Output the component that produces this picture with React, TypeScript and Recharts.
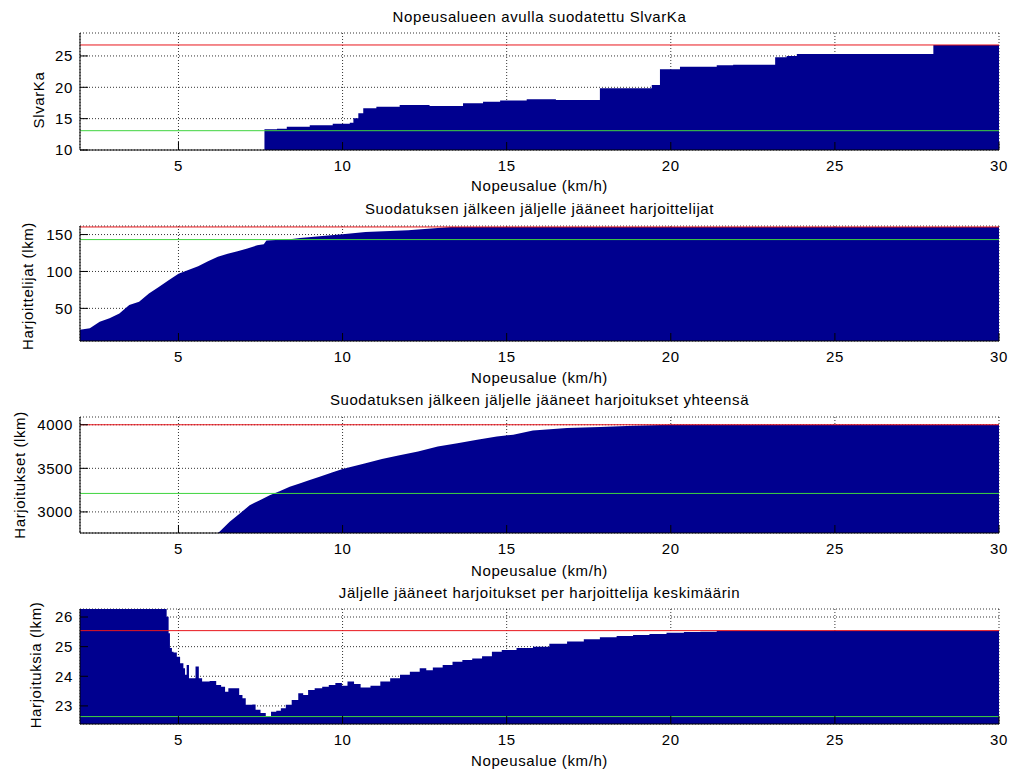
import React from 'react';
import { ComposedChart, Area, XAxis, YAxis, CartesianGrid, ReferenceLine } from 'recharts';

// ---- shared x axis ----
const X_DOMAIN: [number, number] = [2, 30];
const X_TICKS = [5, 10, 15, 20, 25, 30];

// ---- panel 1: SlvarKa ----
const slvarkaX = [7.62, 8.0, 8.3, 9.0, 9.7, 10.22, 10.33, 10.48, 10.63, 11.03, 11.74, 12.65, 13.67, 14.28, 14.8, 15.61, 16.5, 17.84, 19.42, 19.67, 20.28, 21.4, 21.9, 23.18, 23.53, 23.84, 28.0, 30.0];
const slvarkaY = [13.3, 13.4, 13.72, 13.93, 14.2, 14.35, 15.06, 15.85, 16.65, 16.9, 17.18, 17.0, 17.45, 17.7, 17.9, 18.08, 17.97, 19.84, 20.37, 22.87, 23.29, 23.5, 23.6, 24.78, 24.99, 25.31, 26.75, 26.75];
const slvarkaTicks = [10, 15, 20, 25];

// ---- panel 2: Harjoittelijat ----
const harjoittelijatX = [2.0, 2.3, 2.6, 2.9, 3.2, 3.5, 3.8, 4.1, 4.4, 4.7, 5.0, 5.3, 5.6, 5.9, 6.2, 6.5, 6.8, 7.1, 7.4, 7.6, 7.68, 8.4, 8.7, 9.3, 10.0, 10.7, 12.0, 12.9, 13.3, 30.0];
const harjoittelijatY = [21, 23, 32, 36.5, 43, 54.5, 59, 70, 79, 88, 97, 102, 107, 114, 120, 124, 127.4, 131, 135.5, 137, 142, 143.6, 145.5, 147.7, 150.4, 153.5, 155.8, 159, 160.3, 160.3];
const harjoittelijatTicks = [50, 100, 150];

// ---- panel 3: Harjoitukset ----
const harjoituksetX = [6.2, 6.25, 6.56, 6.87, 7.17, 7.48, 7.78, 8.08, 8.39, 8.69, 9.0, 9.3, 9.7, 10.0, 10.7, 11.2, 11.7, 12.3, 12.9, 13.5, 14.1, 14.7, 15.2, 15.8, 16.84, 17.84, 18.85, 19.98, 30.0];
const harjoituksetY = [2758, 2773, 2888, 2981, 3077, 3134, 3192, 3238, 3288, 3327, 3365, 3404, 3455, 3493, 3559, 3608, 3646, 3692, 3750, 3789, 3827, 3865, 3885, 3935, 3962, 3973, 3988, 4000, 4000];
const harjoituksetTicks = [3000, 3500, 4000];

// ---- panel 4: Harjoituksia per harjoittelija ----
const keskiarvoX = [2.0, 4.64, 4.7, 4.74, 4.8, 4.85, 4.95, 5.05, 5.15, 5.2, 5.25, 5.32, 5.52, 5.62, 5.72, 5.95, 6.15, 6.3, 6.42, 6.52, 6.85, 6.95, 7.05, 7.25, 7.35, 7.5, 7.66, 7.82, 7.98, 8.12, 8.27, 8.45, 8.65, 8.8, 8.95, 9.15, 9.38, 9.58, 9.78, 9.98, 10.15, 10.35, 10.55, 10.85, 11.15, 11.45, 11.75, 12.05, 12.35, 12.55, 12.75, 13.05, 13.35, 13.65, 13.95, 14.25, 14.55, 14.85, 15.3, 15.8, 16.3, 16.84, 17.35, 17.84, 18.35, 18.85, 19.35, 19.87, 20.4, 20.9, 21.4, 30.0];
const keskiarvoY = [27.0, 26.01, 25.45, 24.95, 24.83, 24.8, 24.66, 24.44, 24.27, 24.05, 24.38, 23.93, 24.33, 23.93, 23.82, 23.84, 23.71, 23.65, 23.48, 23.6, 23.37, 23.26, 23.04, 23.05, 22.87, 22.76, 22.64, 22.8, 22.84, 22.92, 23.04, 23.2, 23.43, 23.37, 23.54, 23.6, 23.65, 23.71, 23.77, 23.68, 23.82, 23.74, 23.62, 23.68, 23.82, 23.93, 24.05, 24.15, 24.27, 24.2, 24.3, 24.38, 24.49, 24.55, 24.6, 24.68, 24.83, 24.89, 24.95, 25.0, 25.1, 25.17, 25.25, 25.32, 25.36, 25.39, 25.43, 25.47, 25.49, 25.5, 25.54, 25.54];
const keskiarvoTicks = [23, 24, 25, 26];

const titles = [
  'Nopeusalueen avulla suodatettu SlvarKa',
  'Suodatuksen jälkeen jäljelle jääneet harjoittelijat',
  'Suodatuksen jälkeen jäljelle jääneet harjoitukset yhteensä',
  'Jäljelle jääneet harjoitukset per harjoittelija keskimäärin',
];
const yLabels = ['SlvarKa', 'Harjoittelijat (lkm)', 'Harjoitukset (lkm)', 'Harjoituksia (lkm)'];
const xLabel = 'Nopeusalue (km/h)';

const NAVY = '#00008F';
const RED = '#e8161c';
const GREEN = '#3fd43f';

const zip = (xs: number[], ys: number[]) => xs.map((x, i) => ({ x, y: ys[i] }));

type PanelProps = {
  plotTop: number;
  plotBottom: number;
  data: { x: number; y: number }[];
  yDomain: [number, number];
  yTicks: number[];
  red: number;
  green: number;
  curve: 'stepAfter' | 'linear';
};

const MT = 10;
const XAH = 40;

function Panel({ plotTop, plotBottom, data, yDomain, yTicks, red, green, curve }: PanelProps) {
  const plotH = plotBottom - plotTop;
  const axisStyle = { stroke: '#000', strokeWidth: 1 };
  return (
    <div style={{ position: 'absolute', left: 0, top: plotTop - MT }}>
      <ComposedChart width={1013} height={plotH + MT + XAH} data={data} margin={{ top: MT, right: 14, bottom: 0, left: 0 }}>
        <CartesianGrid stroke="#000" strokeDasharray="1 2" strokeOpacity={0.8} />
        <Area dataKey="y" type={curve} fill={NAVY} fillOpacity={1} stroke="none" isAnimationActive={false} dot={false} activeDot={false} />
        <ReferenceLine y={red} stroke={RED} strokeWidth={1} />
        <ReferenceLine y={green} stroke={GREEN} strokeWidth={1} />
        <XAxis dataKey="x" type="number" domain={X_DOMAIN} ticks={X_TICKS} interval={0} allowDataOverflow
          tickSize={-8} tickMargin={18} height={XAH} axisLine={axisStyle} tickLine={axisStyle} tick={{ fill: '#000' }} />
        <XAxis xAxisId="top" orientation="top" type="number" domain={X_DOMAIN} ticks={X_TICKS} interval={0} allowDataOverflow
          tickSize={-8} height={0} axisLine={axisStyle} tickLine={axisStyle} tick={false} />
        <YAxis type="number" domain={yDomain} ticks={yTicks} interval={0} allowDataOverflow width={80}
          tickSize={-8} tickMargin={15} axisLine={axisStyle} tickLine={axisStyle} tick={{ fill: '#000' }} />
        <YAxis yAxisId="r" orientation="right" type="number" domain={yDomain} ticks={yTicks} interval={0} allowDataOverflow width={0}
          tickSize={-8} axisLine={axisStyle} tickLine={axisStyle} tick={false} />
      </ComposedChart>
    </div>
  );
}

const panels: PanelProps[] = [
  { plotTop: 33, plotBottom: 150, data: zip(slvarkaX, slvarkaY), yDomain: [10, 28.66], yTicks: slvarkaTicks, red: 26.75, green: 13.08, curve: 'stepAfter' },
  { plotTop: 226, plotBottom: 341, data: zip(harjoittelijatX, harjoittelijatY), yDomain: [5.8, 161.6], yTicks: harjoittelijatTicks, red: 160.3, green: 143.2, curve: 'linear' },
  { plotTop: 417, plotBottom: 533, data: zip(harjoituksetX, harjoituksetY), yDomain: [2758, 4089], yTicks: harjoituksetTicks, red: 4000, green: 3212, curve: 'linear' },
  { plotTop: 609, plotBottom: 724, data: zip(keskiarvoX, keskiarvoY), yDomain: [22.39, 26.27], yTicks: keskiarvoTicks, red: 25.54, green: 22.64, curve: 'stepAfter' },
];

const titleBaselines = [22, 214, 405, 598];
const xLabelBaselines = [190.5, 382.5, 576, 766];
const yLabelPos = [
  { x: 44, y: 100 },
  { x: 33, y: 286 },
  { x: 24.5, y: 475 },
  { x: 41, y: 665 },
];

export default function App() {
  const cx = (80 + 999) / 2;
  return (
    <div style={{ position: 'absolute', left: 0, top: 0, width: 1013, height: 771, background: '#fff', fontFamily: '"Liberation Sans", Arial, Helvetica, sans-serif', fontSize: 15, letterSpacing: '0.6px', color: '#000' }}>
      {panels.map((p, i) => (
        <Panel key={i} {...p} />
      ))}
      <svg width={1013} height={771} style={{ position: 'absolute', left: 0, top: 0, pointerEvents: 'none' }}>
        {titles.map((t, i) => (
          <text key={'t' + i} x={cx} y={titleBaselines[i]} textAnchor="middle" fill="#000">{t}</text>
        ))}
        {xLabelBaselines.map((b, i) => (
          <text key={'x' + i} x={cx} y={b} textAnchor="middle" fill="#000">{xLabel}</text>
        ))}
        {yLabels.map((t, i) => (
          <text key={'y' + i} x={yLabelPos[i].x} y={yLabelPos[i].y} textAnchor="middle" fill="#000"
            transform={`rotate(-90 ${yLabelPos[i].x} ${yLabelPos[i].y})`}>{t}</text>
        ))}
      </svg>
    </div>
  );
}
